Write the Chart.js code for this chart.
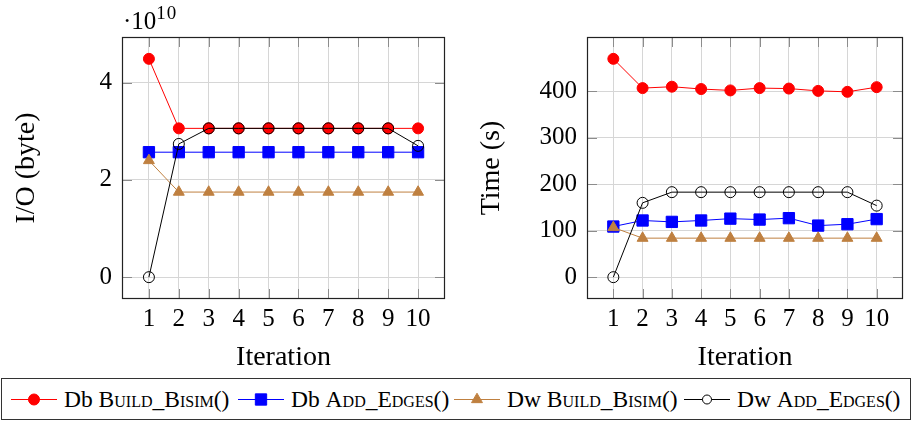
<!DOCTYPE html>
<html>
<head>
<meta charset="utf-8">
<script src="https://cdn.jsdelivr.net/npm/chart.js@4.4.1/dist/chart.umd.min.js"></script>
<style>
  body { margin: 0; background: #fff; font-family: "Liberation Serif", serif; }
  #page { position: relative; width: 912px; height: 421px; overflow: hidden; }
  #leftBox { position: absolute; left: 0; top: 0; width: 460px; height: 375px; }
  #rightBox { position: absolute; left: 460px; top: 0; width: 452px; height: 375px; }
  #exp { position: absolute; left: 123px; top: 8px; font-size: 25px; line-height: 25px; white-space: nowrap; }
  #exp span { position: relative; top: -10px; font-size: 19px; letter-spacing: 1px; }
  #legend { position: absolute; left: 1px; top: 378px; width: 908px; height: 40px; border: 1px solid #333; }
  .item { position: absolute; top: 0; height: 40px; display: flex; align-items: center; font-size: 23.5px; white-space: nowrap; }
  .item canvas { margin-right: 7px; }
  .sc { font-variant: small-caps; }
</style>
</head>
<body>
<div id="page">
  <div id="leftBox"><canvas id="ioChart"></canvas></div>
  <div id="rightBox"><canvas id="timeChart"></canvas></div>
  <div id="exp">·10<span>10</span></div>
  <div id="legend"></div>
</div>
<script>
// iterations on the x axis
const iterations = [1, 2, 3, 4, 5, 6, 7, 8, 9, 10];

// I/O in units of 10^10 bytes
const ioDbBuild = [4.49, 3.06, 3.06, 3.06, 3.06, 3.06, 3.06, 3.06, 3.06, 3.06];
const ioDbAdd   = [2.57, 2.57, 2.57, 2.57, 2.57, 2.57, 2.57, 2.57, 2.57, 2.57];
const ioDwBuild = [2.40, 1.75, 1.75, 1.75, 1.75, 1.75, 1.75, 1.75, 1.75, 1.75];
const ioDwAdd   = [0, 2.74, 3.06, 3.06, 3.06, 3.06, 3.06, 3.06, 3.06, 2.70];

// time in seconds
const timeDbBuild = [470, 407, 410, 405, 402, 407, 406, 401, 399, 409];
const timeDbAdd   = [109, 122, 119, 122, 126, 124, 127, 111, 114, 125];
const timeDwBuild = [107, 84, 84, 84, 84, 84, 84, 84, 84, 84];
const timeDwAdd   = [0, 160, 183, 183, 183, 183, 183, 183, 183, 154];

const ioTicks = [0, 2, 4];
const timeTicks = [0, 100, 200, 300, 400];

const seriesPrefix = ["Db", "Db", "Dw", "Dw"];
const seriesNames = ["Build_Bisim()", "Add_Edges()", "Build_Bisim()", "Add_Edges()"];

const styles = [
  { color: "#ff0000", pointStyle: "circle", radius: 5.5, fill: "#ff0000" },
  { color: "#0000ff", pointStyle: "rect", radius: 8, fill: "#0000ff" },
  { color: "#bf8040", pointStyle: "triangle", radius: 6.3, fill: "#bf8040" },
  { color: "#000000", pointStyle: "circle", radius: 5.5, fill: "rgba(0,0,0,0)" },
];

Chart.defaults.font.family = '"Liberation Serif", serif';
Chart.defaults.color = "#000";

// pgfplots-like box with inward ticks on all four sides
const axisFrame = {
  id: "axisFrame",
  beforeDatasetsDraw(chart) {
    const { ctx, chartArea: a, scales: { x, y } } = chart;
    const len = 10;
    ctx.save();
    ctx.strokeStyle = "#8c8c8c";
    ctx.lineWidth = 1;
    ctx.beginPath();
    x.ticks.forEach(t => {
      const px = Math.round(x.getPixelForValue(t.value)) + 0.5;
      ctx.moveTo(px, a.top); ctx.lineTo(px, a.top + len);
      ctx.moveTo(px, a.bottom); ctx.lineTo(px, a.bottom - len);
    });
    y.ticks.forEach(t => {
      const py = Math.round(y.getPixelForValue(t.value)) + 0.5;
      ctx.moveTo(a.left, py); ctx.lineTo(a.left + len, py);
      ctx.moveTo(a.right, py); ctx.lineTo(a.right - len, py);
    });
    ctx.stroke();
    ctx.strokeStyle = "#222";
    ctx.lineWidth = 1.2;
    ctx.strokeRect(a.left + 0.5, a.top + 0.5, a.right - a.left - 1, a.bottom - a.top - 1);
    ctx.restore();
  }
};

function makeDatasets(series) {
  return series.map((vals, i) => ({
    label: seriesPrefix[i] + " " + seriesNames[i],
    data: vals.map((v, k) => ({ x: iterations[k], y: v })),
    borderColor: styles[i].color,
    backgroundColor: styles[i].fill,
    pointBorderColor: styles[i].color,
    pointBackgroundColor: styles[i].fill,
    pointStyle: styles[i].pointStyle,
    pointRadius: styles[i].radius,
    pointBorderWidth: 1,
    borderWidth: 1,
    tension: 0,
    order: series.length - 1 - i
  }));
}

function enlarged(values) {
  const lo = Math.min(...values), hi = Math.max(...values);
  const pad = (hi - lo) * 0.1;
  return { min: lo - pad, max: hi + pad };
}

function makeChart(id, series, yTicks, yTitle, yWidth, titlePad, rightPad) {
  const yr = enlarged(series.flat());
  const xr = enlarged(iterations);
  return new Chart(document.getElementById(id), {
    type: "line",
    data: { datasets: makeDatasets(series) },
    options: {
      responsive: true,
      maintainAspectRatio: false,
      animation: false,
      layout: { padding: { top: 37, right: rightPad, left: 0, bottom: 0 } },
      plugins: { legend: { display: false }, tooltip: { enabled: false } },
      scales: {
        x: {
          type: "linear",
          min: xr.min,
          max: xr.max,
          afterBuildTicks: s => { s.ticks = iterations.map(v => ({ value: v })); },
          afterFit: s => { s.height = 76; s.paddingLeft = 0; s.paddingRight = 0; },
          grid: { color: "#d6d6d6", drawTicks: false },
          border: { display: false },
          ticks: { font: { size: 25 }, padding: 5, maxRotation: 0, autoSkip: false },
          title: { display: true, text: "Iteration", font: { size: 28, lineHeight: 1 }, padding: { top: 0, bottom: 3 } }
        },
        y: {
          min: yr.min,
          max: yr.max,
          afterBuildTicks: s => { s.ticks = yTicks.map(v => ({ value: v })); },
          afterFit: s => { s.width = yWidth; s.paddingTop = 0; s.paddingBottom = 0; },
          grid: { color: "#d6d6d6", drawTicks: false },
          border: { display: false },
          ticks: { font: { size: 25 }, padding: 10 },
          title: { display: true, text: yTitle, font: { size: 28, lineHeight: 1 }, padding: { top: titlePad, bottom: 0 } }
        }
      }
    },
    plugins: [axisFrame]
  });
}

makeChart("ioChart", [ioDbBuild, ioDbAdd, ioDwBuild, ioDwAdd], ioTicks, "I/O (byte)", 122, 13, 15);
makeChart("timeChart", [timeDbBuild, timeDbAdd, timeDwBuild, timeDwAdd], timeTicks, "Time (s)", 127, 18, 1);

// legend built from the same series styles
const legendLefts = [9, 236, 452, 682];
const legend = document.getElementById("legend");
seriesNames.forEach((name, i) => {
  const item = document.createElement("div");
  item.className = "item";
  item.style.left = legendLefts[i] + "px";
  const c = document.createElement("canvas");
  c.width = 46; c.height = 16;
  const ctx = c.getContext("2d");
  ctx.strokeStyle = styles[i].color;
  ctx.lineWidth = 1;
  ctx.beginPath(); ctx.moveTo(0, 8.5); ctx.lineTo(46, 8.5); ctx.stroke();
  ctx.fillStyle = i === 3 ? "#fff" : styles[i].fill;
  Chart.helpers.drawPoint(ctx, {
    pointStyle: styles[i].pointStyle,
    radius: i === 3 ? 4.5 : styles[i].radius,
    rotation: 0,
    borderWidth: 1
  }, 23, 8.5);
  item.appendChild(c);
  const label = document.createElement("span");
  label.innerHTML = seriesPrefix[i] + " <span class=\"sc\">" + name + "</span>";
  item.appendChild(label);
  legend.appendChild(item);
});
</script>
</body>
</html>
